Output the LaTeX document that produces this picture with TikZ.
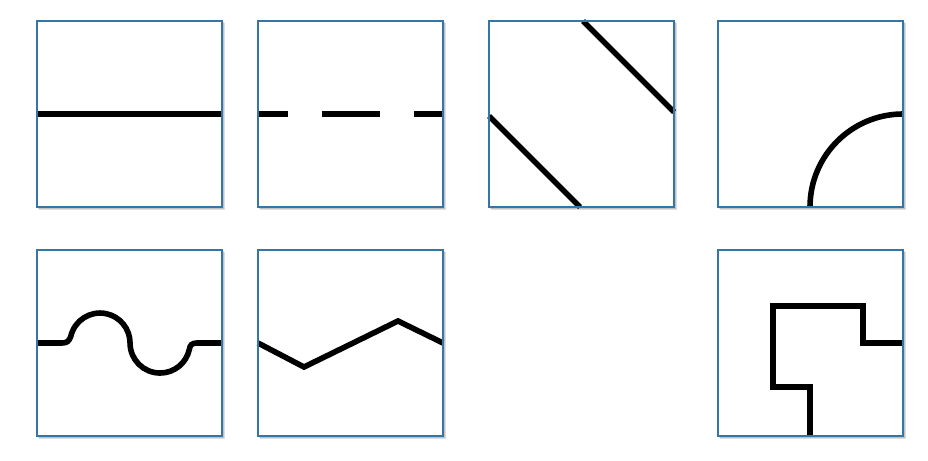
\documentclass[tikz,border=0pt]{standalone}
\usetikzlibrary{calc}
\definecolor{tileblue}{RGB}{50,118,170}
\tikzset{
  tilebox/.style={fill=white, minimum width=185pt, minimum height=186pt, inner sep=0pt, outer sep=0pt},
  tileborder/.style={draw=tileblue, line width=1.7pt},
  wire/.style={draw=black, line width=5.6pt},
  shade1/.style={fill=black, opacity=0.13},
}
\newcommand{\mktile}[3]{%
  \fill[shade1] (#2+1.5,#3-3.5) rectangle (#2+188,#3+184);
  \fill[shade1] (#2+0.5,#3-2) rectangle (#2+186.5,#3+185);
  \node[tilebox] (#1) at (#2+92.5,#3+93) {};
}
\newcommand{\mkborder}[1]{\draw[tileborder] (#1.south west) rectangle (#1.north east);}
\begin{document}
\begin{tikzpicture}[x=1pt,y=1pt]
\useasboundingbox (0,0) rectangle (928,460);
\fill[white] (0,0) rectangle (928,460);
% tiles
\mktile{ta}{37}{253}
\mktile{tb}{258}{253}
\mktile{tc}{489}{253}
\mktile{td}{718}{253}
\mktile{te}{37}{24}
\mktile{tf}{258}{24}
\mktile{th}{718}{24}
% 1: straight line
\draw[wire] (ta.west) -- (ta.east);
% 2: dashed line
\draw[wire, dash pattern=on 58pt off 34pt, dash phase=28pt] (tb.west) -- (tb.east);
% 3: two diagonals
\draw[wire] (489,344) -- (580,253);
\draw[wire] (583,439) -- (674,348);
% 4: quarter circle
\draw[wire] (810,253) arc[start angle=180, end angle=90, radius=93];
% 5: wave
\draw[wire] (te.west) -- (62,117) .. controls (67,117) and (69,119) .. (70.7,123.2)
  arc[start angle=168, end angle=0, radius=30]
  arc[start angle=180, end angle=348, radius=30]
  .. controls (190,115) and (192,117) .. (197,117) -- (te.east);
% 6: zigzag
\coordinate (fv) at (304,93);
\coordinate (fp) at (398,139);
\draw[wire, line join=miter] (tf.west) -- (fv) -- (fp) -- (tf.east);
% 8: stepped path
\draw[wire, line join=miter] (th.east) -- (863,117) -- (863,154) -- (773,154) -- (773,73) -- (810,73) -- (810,24);
% borders on top
\mkborder{ta}\mkborder{tb}\mkborder{tc}\mkborder{td}
\mkborder{te}\mkborder{tf}\mkborder{th}
\end{tikzpicture}
\end{document}
